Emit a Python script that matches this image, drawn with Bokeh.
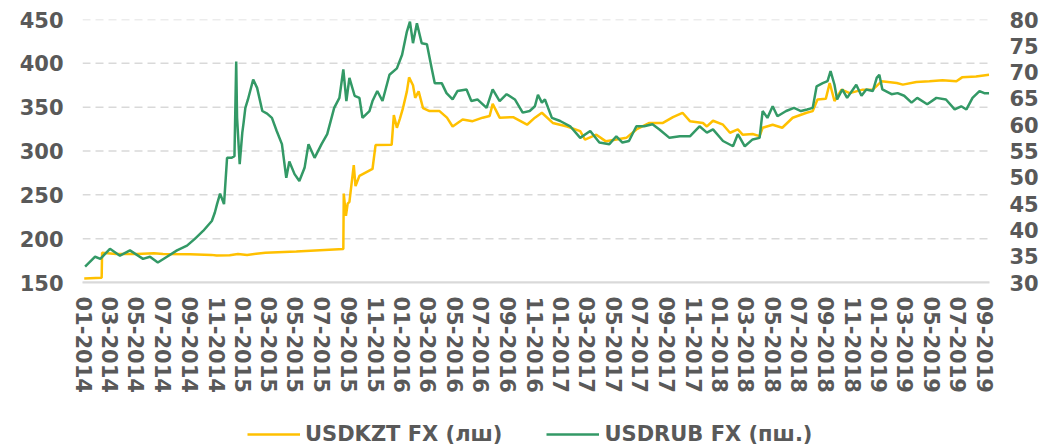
import pandas as pd
from bokeh.plotting import figure
from bokeh.layouts import column
from bokeh.models import (Range1d, LinearAxis, FixedTicker, Legend, LegendItem,
                          ColumnDataSource, DatetimeTickFormatter)
from bokeh.embed import file_html
from bokeh.resources import INLINE

# ---------------- data ----------------
kzt_dates = ["2014-01-01", "2014-02-10", "2014-02-11", "2014-03-15", "2014-05-01", "2014-06-10",
             "2014-07-01", "2014-09-01", "2014-10-20", "2014-11-01", "2014-12-01", "2014-12-20",
             "2015-01-10", "2015-02-21", "2015-05-03", "2015-08-19", "2015-08-20", "2015-08-25",
             "2015-08-29", "2015-09-02", "2015-09-12", "2015-09-16", "2015-09-25", "2015-10-25",
             "2015-11-01", "2015-12-08", "2015-12-13", "2015-12-20", "2015-12-27", "2016-01-03",
             "2016-01-12", "2016-01-17", "2016-01-26", "2016-01-31", "2016-02-08", "2016-02-18",
             "2016-03-04", "2016-03-27", "2016-04-13", "2016-04-26", "2016-05-19", "2016-06-11",
             "2016-07-04", "2016-07-20", "2016-07-27", "2016-08-12", "2016-09-12", "2016-10-14",
             "2016-11-01", "2016-11-17", "2016-12-12", "2017-01-14", "2017-02-13", "2017-02-24",
             "2017-03-22", "2017-04-13", "2017-05-07", "2017-05-30", "2017-06-22", "2017-07-22",
             "2017-08-22", "2017-09-14", "2017-10-06", "2017-10-23", "2017-11-22", "2017-12-01",
             "2017-12-15", "2018-01-07", "2018-01-23", "2018-02-10", "2018-02-21", "2018-03-16",
             "2018-04-01", "2018-04-08", "2018-05-01", "2018-05-23", "2018-06-16", "2018-07-18",
             "2018-08-01", "2018-08-12", "2018-08-31", "2018-09-09", "2018-09-20", "2018-10-06",
             "2018-10-25", "2018-11-24", "2018-12-17", "2019-01-06", "2019-02-10", "2019-02-24",
             "2019-03-27", "2019-04-26", "2019-05-26", "2019-06-27", "2019-07-10", "2019-08-11",
             "2019-09-10"]
kzt_values = [154.5, 155.5, 184.0, 182.5, 182.5, 183.5,
              182.5, 182.3, 181.5, 180.7, 181.0, 182.5,
              181.5, 184.0, 185.5, 188.3, 251.5, 226.0,
              240.0, 242.0, 284.0, 260.0, 271.6, 279.5,
              306.8, 307.0, 341.0, 326.5, 337.0, 349.0,
              368.0, 384.0, 375.0, 360.6, 368.0, 349.0,
              345.5, 345.5, 338.0, 328.0, 336.0, 334.0,
              338.0, 340.0, 353.8, 338.0, 338.6, 330.0,
              338.0, 343.6, 332.0, 328.0, 322.7, 313.0,
              318.6, 311.0, 313.0, 315.0, 324.6, 332.0,
              332.0, 338.6, 343.6, 334.0, 332.0, 328.0,
              334.5, 330.0, 320.8, 324.6, 318.6, 319.4,
              317.0, 326.5, 330.0, 326.5, 337.9, 343.6,
              345.5, 358.7, 359.5, 377.6, 357.0, 370.0,
              366.0, 370.0, 370.0, 379.5, 377.6, 375.7,
              378.7, 379.5, 380.6, 379.5, 384.0, 385.0,
              387.0]

rub_dates = ["2014-01-03", "2014-01-26", "2014-02-07", "2014-03-01", "2014-03-24", "2014-04-16",
             "2014-05-16", "2014-06-01", "2014-06-19", "2014-07-10", "2014-08-02", "2014-08-25",
             "2014-09-12", "2014-10-01", "2014-10-21", "2014-10-28", "2014-11-02", "2014-11-09",
             "2014-11-18", "2014-11-25", "2014-12-05", "2014-12-12", "2014-12-16", "2014-12-18",
             "2014-12-24", "2014-12-30", "2015-01-02", "2015-01-06", "2015-01-12", "2015-01-24",
             "2015-02-02", "2015-02-14", "2015-02-25", "2015-03-08", "2015-03-19", "2015-03-31",
             "2015-04-10", "2015-04-17", "2015-04-29", "2015-05-10", "2015-05-22", "2015-05-31",
             "2015-06-14", "2015-06-30", "2015-07-13", "2015-07-29", "2015-08-10", "2015-08-19",
             "2015-08-26", "2015-09-02", "2015-09-14", "2015-09-25", "2015-10-02", "2015-10-18",
             "2015-10-25", "2015-11-05", "2015-11-17", "2015-12-03", "2015-12-20", "2016-01-01",
             "2016-01-12", "2016-01-19", "2016-01-26", "2016-02-04", "2016-02-15", "2016-02-27",
             "2016-03-09", "2016-03-16", "2016-04-01", "2016-04-12", "2016-04-26", "2016-05-07",
             "2016-05-28", "2016-06-08", "2016-06-22", "2016-07-13", "2016-07-27", "2016-08-12",
             "2016-08-28", "2016-09-16", "2016-10-04", "2016-10-20", "2016-11-01", "2016-11-08",
             "2016-11-17", "2016-11-24", "2016-12-10", "2016-12-29", "2017-01-21", "2017-02-13",
             "2017-03-08", "2017-03-29", "2017-04-21", "2017-05-07", "2017-05-21", "2017-06-05",
             "2017-06-22", "2017-07-10", "2017-07-29", "2017-08-14", "2017-09-06", "2017-09-30",
             "2017-10-23", "2017-11-14", "2017-12-01", "2017-12-15", "2018-01-07", "2018-01-30",
             "2018-02-10", "2018-02-26", "2018-03-16", "2018-04-01", "2018-04-08", "2018-04-19",
             "2018-05-01", "2018-05-12", "2018-06-01", "2018-06-19", "2018-07-05", "2018-07-19",
             "2018-08-01", "2018-08-10", "2018-08-24", "2018-09-04", "2018-09-11", "2018-09-20",
             "2018-09-26", "2018-10-08", "2018-10-19", "2018-11-09", "2018-11-21", "2018-12-02",
             "2018-12-17", "2018-12-26", "2019-01-01", "2019-01-08", "2019-01-29", "2019-02-12",
             "2019-02-27", "2019-03-16", "2019-03-29", "2019-04-21", "2019-05-12", "2019-06-03",
             "2019-06-23", "2019-07-08", "2019-07-20", "2019-08-03", "2019-08-19", "2019-08-30",
             "2019-09-10"]
rub_values = [33.0, 34.9, 34.5, 36.4, 35.1, 36.1,
              34.5, 34.9, 33.8, 34.9, 36.1, 37.0,
              38.3, 39.8, 41.7, 43.3, 44.9, 46.9,
              44.9, 53.7, 53.7, 54.0, 72.0, 61.3,
              52.5, 58.5, 60.4, 63.2, 64.8, 68.6,
              67.0, 62.6, 62.1, 61.3, 58.8, 56.3,
              49.9, 53.0, 50.6, 49.3, 51.8, 56.3,
              53.7, 56.3, 58.2, 63.2, 65.1, 70.5,
              64.5, 68.9, 65.5, 65.1, 61.3, 62.6,
              64.5, 66.4, 64.5, 69.5, 70.7, 73.3,
              77.7, 79.6, 75.5, 79.3, 75.5, 75.3,
              70.7, 67.9, 67.9, 66.0, 64.8, 66.4,
              66.7, 64.5, 64.8, 63.2, 66.7, 64.5,
              65.8, 64.8, 62.3, 62.6, 63.5, 65.7,
              64.2, 64.8, 61.3, 60.7, 59.7, 57.5,
              58.8, 56.6, 56.3, 57.8, 56.6, 56.9,
              59.7, 59.7, 60.1, 59.1, 57.5, 57.8,
              57.8, 59.7, 58.5, 59.1, 56.9, 55.9,
              58.2, 55.9, 57.2, 57.5, 62.6, 61.3,
              63.5, 61.6, 62.6, 63.2, 62.6, 62.9,
              63.2, 67.3, 67.9, 68.3, 70.2, 67.6,
              64.8, 66.7, 65.1, 67.6, 65.5, 66.7,
              66.4, 68.9, 69.5, 66.7, 65.8, 66.0,
              65.5, 64.2, 65.1, 63.9, 65.1, 64.8,
              62.9, 63.5, 62.9, 65.1, 66.4, 66.0,
              66.0]

x_labels = ["01-2014", "03-2014", "05-2014", "07-2014", "09-2014", "11-2014",
            "01-2015", "03-2015", "05-2015", "07-2015", "09-2015", "11-2015",
            "01-2016", "03-2016", "05-2016", "07-2016", "09-2016", "11-2016",
            "01-2017", "03-2017", "05-2017", "07-2017", "09-2017", "11-2017",
            "01-2018", "03-2018", "05-2018", "07-2018", "09-2018", "11-2018",
            "01-2019", "03-2019", "05-2019", "07-2019", "09-2019"]
left_ticks = [150, 200, 250, 300, 350, 400, 450]
right_ticks = [30, 35, 40, 45, 50, 55, 60, 65, 70, 75, 80]
series_names = ["USDKZT FX (лш)", "USDRUB FX (пш.)"]

# ---------------- styling ----------------
KZT_COLOR = "#FFC000"
RUB_COLOR = "#339966"
TEXT_COLOR = "#595959"
GRID_COLOR = "#D9D9D9"
AXIS_COLOR = "#D9D9D9"
FONT = "DejaVu Sans"
FONT_SIZE = "21px"
LINE_W = 2.5

def ms(d):
    return pd.Timestamp(d).value / 1e6

tick_ms = [ms(pd.to_datetime("01-" + lab, format="%d-%m-%Y")) for lab in x_labels]
x_start, x_end = ms("2013-12-28"), ms("2019-09-11")

p = figure(width=1043, height=410, x_axis_type="datetime",
           output_backend="svg", toolbar_location=None,
           x_range=Range1d(x_start, x_end),
           y_range=Range1d(left_ticks[0], left_ticks[-1]),
           min_border_left=82, min_border_right=54, min_border_top=19, min_border_bottom=128)
p.extra_y_ranges = {"rub": Range1d(right_ticks[0], right_ticks[-1])}
p.outline_line_color = None
p.background_fill_color = None
p.border_fill_color = None

# horizontal gridlines (dashed) at the left-axis ticks, plus the solid base line
p.xgrid.visible = False
p.ygrid.visible = False
grid_y = left_ticks[1:]
p.segment(x0=[x_start] * len(grid_y), x1=[x_end] * len(grid_y), y0=grid_y, y1=grid_y,
          line_color=GRID_COLOR, line_width=1.5, line_dash="8 5")
p.segment(x0=[x_start], x1=[x_end], y0=[left_ticks[0]], y1=[left_ticks[0]],
          line_color=AXIS_COLOR, line_width=2)

kzt_src = ColumnDataSource(dict(x=pd.to_datetime(kzt_dates), y=kzt_values))
rub_src = ColumnDataSource(dict(x=pd.to_datetime(rub_dates), y=rub_values))

p.line("x", "y", source=kzt_src, line_color=KZT_COLOR, line_width=LINE_W)
p.line("x", "y", source=rub_src, line_color=RUB_COLOR, line_width=LINE_W, y_range_name="rub")

def style_axis(ax, standoff):
    ax.major_label_text_font = FONT
    ax.major_label_text_font_style = "bold"
    ax.major_label_text_font_size = FONT_SIZE
    ax.major_label_text_color = TEXT_COLOR
    ax.major_tick_in = 0
    ax.major_tick_out = 0
    ax.minor_tick_in = 0
    ax.minor_tick_out = 0
    ax.major_label_standoff = standoff

# left axis
p.yaxis.ticker = FixedTicker(ticks=left_ticks)
p.yaxis.axis_line_color = None
style_axis(p.yaxis[0], 19)

# right axis
ra = LinearAxis(y_range_name="rub", ticker=FixedTicker(ticks=right_ticks))
ra.axis_line_color = None
style_axis(ra, 20)
p.add_layout(ra, "right")

# x axis
xa = p.xaxis[0]
xa.ticker = FixedTicker(ticks=tick_ms)
xa.formatter = DatetimeTickFormatter(months="%m-%Y", days="%m-%Y", years="%m-%Y")
xa.major_label_overrides = {t: lab for t, lab in zip(tick_ms, x_labels)}
xa.major_label_orientation = "vertical"
xa.axis_line_color = AXIS_COLOR
xa.axis_line_width = 2
style_axis(xa, 14)

# ---------------- legend strip ----------------
lg = figure(width=1043, height=38, output_backend="svg", toolbar_location=None,
            x_range=Range1d(0, 1), y_range=Range1d(0, 1),
            min_border=0, min_border_left=0, min_border_right=0,
            min_border_top=0, min_border_bottom=0)
lg.axis.visible = False
lg.grid.visible = False
lg.outline_line_color = None
lg.background_fill_color = None
lg.border_fill_color = None
nan = float("nan")
k_proxy = lg.line(x=[nan], y=[nan], line_color=KZT_COLOR, line_width=LINE_W)
r_proxy = lg.line(x=[nan], y=[nan], line_color=RUB_COLOR, line_width=LINE_W)

legend = Legend(items=[LegendItem(label=series_names[0], renderers=[k_proxy]),
                       LegendItem(label=series_names[1], renderers=[r_proxy])],
                orientation="horizontal", location=(165, 2))
legend.label_text_font = FONT
legend.label_text_font_style = "bold"
legend.label_text_font_size = FONT_SIZE
legend.label_text_color = TEXT_COLOR
legend.glyph_width = 53
legend.glyph_height = 20
legend.label_height = 20
legend.label_standoff = 5
legend.spacing = 44
legend.padding = 0
legend.margin = 0
legend.border_line_color = None
legend.background_fill_alpha = 0
lg.add_layout(legend, "center")

layout = column(p, lg, spacing=0)
open("out.html", "w").write(file_html(layout, INLINE))
